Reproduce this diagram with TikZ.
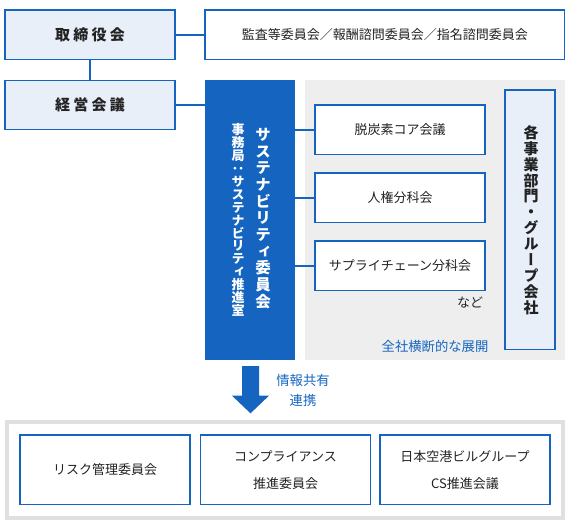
\documentclass[tikz,border=0pt]{standalone}
\usepackage{fontspec}
\setmainfont{Noto Sans CJK JP}
\newfontfamily\vfont[RawFeature={+vert}]{Noto Sans CJK JP}
\definecolor{mblue}{HTML}{1565C0}
\definecolor{lblue}{HTML}{E8EFF9}
\definecolor{gbg}{HTML}{EEEEEE}
\definecolor{gframe}{HTML}{E0E0E0}
\definecolor{txt}{HTML}{222222}
\begin{document}
\begin{tikzpicture}[x=0.75pt,y=-0.75pt,
  box/.style={draw=mblue, line width=0.9pt, fill=white, inner sep=0pt, text=txt,
    font=\fontsize{9.75pt}{12pt}\selectfont, align=center},
  hbox/.style={box, fill=lblue, font=\bfseries\fontsize{11.25pt}{13pt}\selectfont},
  botbox/.style={box, minimum width=127.5pt, minimum height=52.1pt,
    font=\fontsize{9.75pt}{20.25pt}\selectfont},
  midbox/.style={box, minimum width=127.5pt, minimum height=37.1pt},
  link/.style={draw=mblue, line width=1.5pt},
  bluetxt/.style={text=mblue, inner sep=0pt, font=\fontsize{10pt}{15pt}\selectfont, align=center},
  vmain/.style={text=white, inner sep=0pt, align=center,
    font=\vfont\bfseries\fontsize{11.6pt}{12.5pt}\selectfont},
  vsub/.style={text=white, inner sep=0pt, align=center,
    font=\vfont\bfseries\fontsize{9.75pt}{9.7pt}\selectfont},
  vkaku/.style={text=txt, inner sep=0pt, align=center,
    font=\vfont\bfseries\fontsize{11.25pt}{11.9pt}\selectfont}
]
\useasboundingbox (0,0) rectangle (570,530);

% top row
\node[hbox, minimum width=127.5pt, minimum height=37.1pt] (tori) at (90,34.75)
  {取\kern2.4pt 締\kern2.4pt 役\kern2.4pt 会};
\node[box, minimum width=269.6pt, minimum height=37.1pt] (kansa) at (384.75,34.75)
  {監査等委員会／報酬諮問委員会／指名諮問委員会};
\node[hbox, minimum width=127.5pt, minimum height=36.8pt] (keiei) at (90,104.75)
  {経\kern2.4pt 営\kern2.4pt 会\kern2.4pt 議};

% gray region and blue committee box
\node[fill=gbg, inner sep=0pt, minimum width=195pt, minimum height=210pt] (region) at (435,220) {};
\node[fill=mblue, inner sep=0pt, minimum width=67.5pt, minimum height=210pt] (sus) at (250,220) {};
\node[vmain] (susname) at (263,218.5)
  {サ\\ス\\テ\\ナ\\ビ\\リ\\テ\\ィ\\委\\員\\会};
\node[vsub] (jimu) at (238,220)
  {事\\務\\局\\：\\サ\\ス\\テ\\ナ\\ビ\\リ\\テ\\ィ\\推\\進\\室};

% subcommittees
\node[midbox] (dat) at (400,129.75) {脱炭素コア会議};
\node[midbox] (jin) at (400,197.8) {人権分科会};
\node[midbox] (sup) at (400,265.8) {サプライチェーン分科会};
\node[text=txt, inner sep=0pt, font=\fontsize{9.75pt}{12pt}\selectfont] (nado) at (470,303) {など};
\node[bluetxt] (zensha) at (435,346) {全社横断的な展開};

% business units
\node[hbox, minimum width=37.5pt, minimum height=194.6pt] (kaku) at (530,219.75) {};
\node[vkaku] (kakutxt) at (531,220)
  {各\\事\\業\\部\\門\\・\\グ\\ル\\ー\\プ\\会\\社};

% connectors
\draw[link] (tori.east) -- (kansa.west);
\draw[link] (tori.south) -- (keiei.north);
\draw[link] (keiei.east) -- (keiei.east -| sus.west);
\draw[link] (dat.west -| sus.east) -- (dat.west);
\draw[link] (jin.west -| sus.east) -- (jin.west);
\draw[link] (sup.west -| sus.east) -- (sup.west);

% arrow
\fill[mblue] (242,366) -- (259,366) -- (259,395.7) -- (269,395.7) -- (250.5,413.3)
  -- (232,395.7) -- (242,395.7) -- cycle;
\node[bluetxt] (info) at (303,380) {情報共有};
\node[bluetxt] (renkei) at (303,400) {連携};

% bottom frame
\node[draw=gframe, line width=3pt, inner sep=0pt, minimum width=417pt, minimum height=72pt] (frame) at (285,470) {};
\node[botbox] (risk) at (105,469.75) {リスク管理委員会};
\node[botbox] (comp) at (285.5,469.75) {コンプライアンス\\推進委員会};
\node[botbox] (cs) at (465,469.75) {日本空港ビルグループ\\CS推進会議};
\end{tikzpicture}
\end{document}
